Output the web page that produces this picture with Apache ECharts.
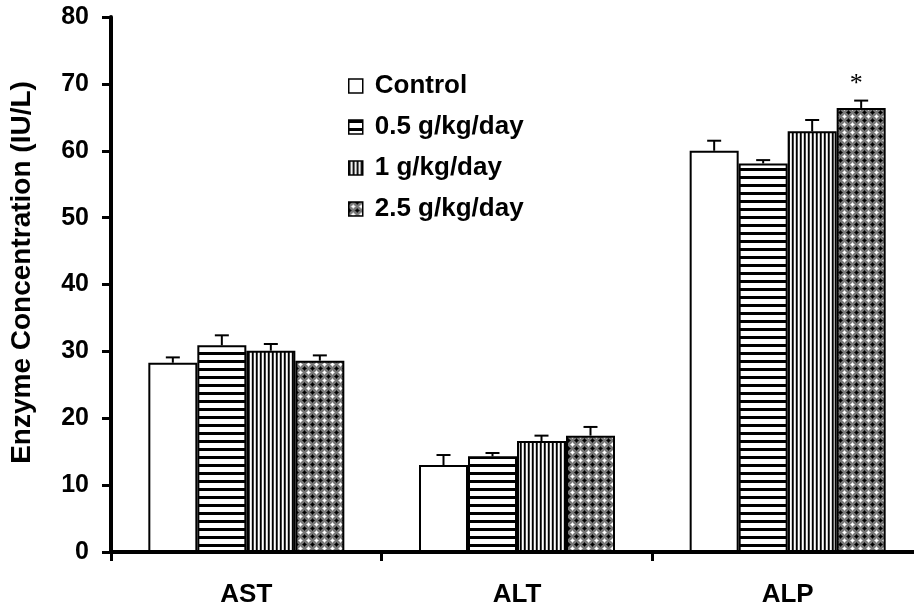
<!DOCTYPE html>
<html>
<head>
<meta charset="utf-8">
<script src="https://cdn.jsdelivr.net/npm/echarts@6/dist/echarts.min.js"></script>
<style>
html,body{margin:0;padding:0;background:#fff;overflow:hidden;width:914px;height:608px;}
#chart{width:930px;height:608px;}
</style>
</head>
<body>
<div id="chart"></div>
<script>
// ---- data ----
const categories = ['AST', 'ALT', 'ALP'];
const seriesNames = ['Control', '0.5 g/kg/day', '1 g/kg/day', '2.5 g/kg/day'];
const controlVals = [28.3, 13.0, 60.0];
const dose05Vals  = [30.9, 14.3, 58.1];
const dose1Vals   = [30.1, 16.6, 62.9];
const dose25Vals  = [28.6, 17.4, 66.4];
const controlErr = [0.8, 1.5, 1.5];
const dose05Err  = [1.5, 0.5, 0.5];
const dose1Err   = [1.0, 0.8, 1.7];
const dose25Err  = [0.8, 1.3, 1.1];
const controlSig = ['', '', ''];
const dose05Sig  = ['', '', ''];
const dose1Sig   = ['', '', ''];
const dose25Sig  = ['', '', '*'];
const yTicks = [0, 10, 20, 30, 40, 50, 60, 70, 80];

const allVals = [controlVals, dose05Vals, dose1Vals, dose25Vals];
const allErr = [controlErr, dose05Err, dose1Err, dose25Err];
const allSig = [controlSig, dose05Sig, dose1Sig, dose25Sig];

// ---- patterns ----
function makeCanvas(w, h, draw) {
  const c = document.createElement('canvas');
  c.width = w; c.height = h;
  const ctx = c.getContext('2d');
  draw(ctx);
  return c;
}
const patWhite = '#ffffff';
const patHoriz = makeCanvas(8, 8, ctx => {
  ctx.fillStyle = '#fff'; ctx.fillRect(0, 0, 8, 8);
  ctx.fillStyle = '#000'; ctx.fillRect(0, 0, 8, 3);
});
const patVert = makeCanvas(4, 4, ctx => {
  ctx.fillStyle = '#fff'; ctx.fillRect(0, 0, 4, 4);
  ctx.fillStyle = '#000'; ctx.fillRect(0, 0, 1, 4);
  ctx.fillStyle = '#444'; ctx.fillRect(1, 0, 1, 4);
  ctx.fillStyle = '#ccc'; ctx.fillRect(3, 0, 1, 4);
});
const patCross = makeCanvas(8, 8, ctx => {
  ctx.fillStyle = '#787878'; ctx.fillRect(0, 0, 8, 8);
  const px = (x, y, c) => { ctx.fillStyle = c; ctx.fillRect(x, y, 1, 1); };
  // light diamond at center
  [[4,3],[3,4],[4,4],[5,4],[4,5]].forEach(p => px(p[0], p[1], '#ffffff'));
  [[4,2],[2,4],[6,4],[4,6],[3,3],[5,5],[3,5],[5,3]].forEach(p => px(p[0], p[1], '#c4c4c4'));
  // dark diamond at corners
  [[0,0],[1,0],[7,0],[0,1],[0,7]].forEach(p => px(p[0], p[1], '#000000'));
  [[2,0],[6,0],[0,2],[0,6],[1,1],[7,7],[1,7],[7,1]].forEach(p => px(p[0], p[1], '#2a2a2a'));
});
const fills = [
  patWhite,
  { image: patHoriz, repeat: 'repeat' },
  { image: patVert, repeat: 'repeat' },
  { image: patCross, repeat: 'repeat' }
];

const FONT = "'Liberation Sans', Arial, Helvetica, sans-serif";
const BAR_W = 49;

const barSeries = seriesNames.map((name, i) => ({
  name: name,
  type: 'bar',
  barWidth: BAR_W,
  barGap: '0%',
  data: allVals[i],
  itemStyle: { color: fills[i], borderColor: '#000', borderWidth: 2 },
  emphasis: { disabled: true },
  animation: false,
  z: 2
}));

const errData = [];
for (let s = 0; s < seriesNames.length; s++) {
  for (let c = 0; c < categories.length; c++) {
    errData.push([c, s, allVals[s][c], allErr[s][c], allSig[s][c]]);
  }
}

const errSeries = {
  type: 'custom',
  name: 'err',
  data: errData,
  z: 5,
  animation: false,
  silent: true,
  renderItem: function (params, api) {
    const c = api.value(0), s = api.value(1), v = api.value(2), e = api.value(3);
    const sig = errData[params.dataIndex][4];
    const base = api.coord([c, v]);
    const top = api.coord([c, v + e]);
    const x = base[0] + (s - 1.5) * BAR_W;
    const children = [
      { type: 'line', shape: { x1: x, y1: base[1], x2: x, y2: top[1] }, style: { stroke: '#000', lineWidth: 2 } },
      { type: 'line', shape: { x1: x - 7, y1: top[1], x2: x + 7, y2: top[1] }, style: { stroke: '#000', lineWidth: 2 } }
    ];
    if (sig) {
      children.push({ type: 'text', x: x - 5, y: top[1] - 16,
        style: { text: sig, fill: '#000', font: "normal 26px 'Liberation Serif', 'Times New Roman', serif", align: 'center', verticalAlign: 'middle' } });
    }
    return { type: 'group', children: children };
  }
};

const chart = echarts.init(document.getElementById('chart'), null, { renderer: 'canvas' });
chart.setOption({
  animation: false,
  backgroundColor: '#fff',
  grid: { left: 108, top: 17, right: 7, height: 536, containLabel: false },
  legend: {
    data: seriesNames,
    orient: 'vertical',
    left: 348,
    top: 73,
    padding: 0,
    itemWidth: 14,
    itemHeight: 14,
    itemGap: 15,
    icon: 'rect',
    itemStyle: { borderColor: '#000', borderWidth: 1.5 },
    textStyle: { fontFamily: FONT, fontWeight: 'bold', fontSize: 26, color: '#000', lineHeight: 26, padding: [0, 0, 0, 7] },
    selectedMode: false
  },
  xAxis: {
    type: 'category',
    data: categories,
    axisLine: { show: true, lineStyle: { color: '#000', width: 4 } },
    axisTick: { show: true, inside: false, length: 9, lineStyle: { color: '#000', width: 3 } },
    axisLabel: { fontFamily: FONT, fontWeight: 'bold', fontSize: 26, color: '#000', margin: 30 },
    splitLine: { show: false }
  },
  yAxis: {
    type: 'value',
    min: yTicks[0],
    max: yTicks[yTicks.length - 1],
    interval: 10,
    name: 'Enzyme Concentration (IU/L)',
    nameLocation: 'middle',
    nameRotate: 90,
    nameGap: 75,
    nameTextStyle: { fontFamily: FONT, fontWeight: 'bold', fontSize: 28, color: '#000', padding: [0, 0, 0, 24] },
    axisLine: { show: true, lineStyle: { color: '#000', width: 4 } },
    axisTick: { show: true, inside: false, length: 9, lineStyle: { color: '#000', width: 3 } },
    axisLabel: { fontFamily: FONT, fontWeight: 'bold', fontSize: 25, color: '#000', margin: 22 },
    splitLine: { show: false }
  },
  series: barSeries.concat([errSeries])
});
</script>
</body>
</html>
